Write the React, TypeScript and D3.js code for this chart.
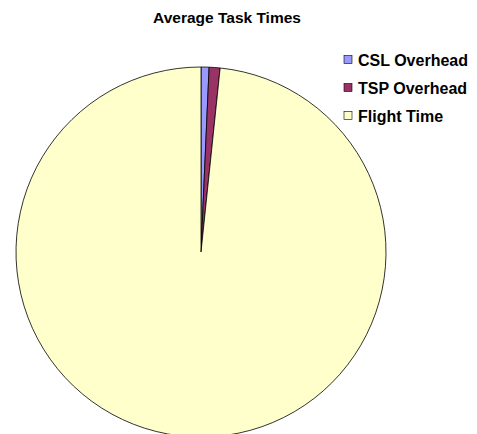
import React, { useEffect, useRef } from 'react';
import * as d3 from 'd3';

const categories = ['CSL Overhead', 'TSP Overhead', 'Flight Time'];
const values = [0.7, 0.95, 98.35];
const colors = ['#9999FF', '#993366', '#FFFFCC'];

const App = () => {
  const svgRef = useRef<SVGSVGElement>(null);

  useEffect(() => {
    if (!svgRef.current) return;
    const width = 477;
    const height = 434;
    const cx = 201;
    const cy = 252;
    const radius = 185;

    const svg = d3.select(svgRef.current);
    svg.selectAll('*').remove();
    svg.attr('width', width).attr('height', height);

    const data = categories.map((c, i) => ({ label: c, value: values[i] }));

    const color = d3.scaleOrdinal<string>().domain(categories).range(colors);

    const pie = d3.pie<{ label: string; value: number }>()
      .sort(null)
      .value(d => d.value);
    const arc = d3.arc<d3.PieArcDatum<{ label: string; value: number }>>()
      .innerRadius(0)
      .outerRadius(radius);

    const g = svg.append('g').attr('transform', `translate(${cx},${cy})`);

    g.selectAll('path')
      .data(pie(data))
      .enter()
      .append('path')
      .attr('d', arc)
      .attr('fill', d => color(d.data.label))
      .attr('stroke', '#000')
      .attr('stroke-width', 0.8);

    // title
    svg.append('text')
      .attr('x', 227)
      .attr('y', 23)
      .attr('text-anchor', 'middle')
      .style('font-family', 'Liberation Sans, Arial, sans-serif')
      .style('font-size', '15.5px')
      .style('font-weight', 'bold')
      .text('Average Task Times');

    // legend
    const legend = svg.selectAll('.legend')
      .data(data)
      .enter()
      .append('g')
      .attr('class', 'legend')
      .attr('transform', (d, i) => `translate(344, ${59.5 + i * 28})`);

    legend.append('rect')
      .attr('x', 0)
      .attr('y', -4)
      .attr('width', 8)
      .attr('height', 8)
      .attr('fill', d => color(d.label))
      .attr('stroke', '#000')
      .attr('stroke-width', 0.6);

    legend.append('text')
      .attr('x', 14)
      .attr('y', 6)
      .text(d => d.label)
      .style('font-family', 'Liberation Sans, Arial, sans-serif')
      .style('font-size', '16px')
      .style('font-weight', 'bold');
  }, []);

  return (
    <svg ref={svgRef} style={{ position: 'absolute', left: 0, top: 0, display: 'block' }}></svg>
  );
};

export default App;
